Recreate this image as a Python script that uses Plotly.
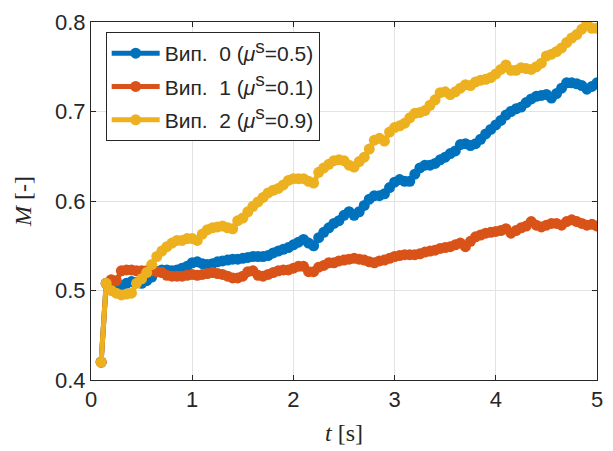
import plotly.graph_objects as go

# Time samples [s]
t = [round(0.10 + 0.05 * k, 2) for k in range(99)]

# Вип. 0 (mu_s = 0.5)
m_case0 = [
    0.420, 0.508, 0.506, 0.503, 0.505, 0.508, 0.510, 0.509, 0.508, 0.511,
    0.515, 0.521, 0.523, 0.523, 0.522, 0.523, 0.525, 0.527, 0.531, 0.532,
    0.530, 0.529, 0.530, 0.532, 0.533, 0.534, 0.535, 0.535, 0.536, 0.537,
    0.538, 0.538, 0.538, 0.539, 0.542, 0.544, 0.546, 0.548, 0.551, 0.554,
    0.557, 0.553, 0.550, 0.559, 0.565, 0.570, 0.575, 0.578, 0.584, 0.588,
    0.584, 0.588, 0.595, 0.602, 0.606, 0.606, 0.608, 0.615, 0.621, 0.624,
    0.622, 0.622, 0.630, 0.637, 0.640, 0.640, 0.642, 0.646, 0.649, 0.653,
    0.656, 0.663, 0.664, 0.662, 0.664, 0.669, 0.675, 0.680, 0.685, 0.690,
    0.696, 0.700, 0.703, 0.705, 0.710, 0.714, 0.717, 0.718, 0.719, 0.715,
    0.720, 0.726, 0.732, 0.732, 0.731, 0.729, 0.725, 0.728, 0.732,
]

# Вип. 1 (mu_s = 0.1)
m_case1 = [
    0.420, 0.508, 0.512, 0.511, 0.522, 0.523, 0.523, 0.522, 0.522, 0.522,
    0.522, 0.521, 0.520, 0.517, 0.516, 0.516, 0.516, 0.517, 0.518, 0.517,
    0.518, 0.519, 0.520, 0.519, 0.518, 0.516, 0.514, 0.514, 0.516, 0.521,
    0.522, 0.517, 0.516, 0.518, 0.520, 0.522, 0.523, 0.523, 0.525, 0.527,
    0.527, 0.521, 0.521, 0.526, 0.528, 0.531, 0.531, 0.533, 0.534, 0.535,
    0.536, 0.535, 0.534, 0.532, 0.531, 0.533, 0.534, 0.536, 0.538, 0.539,
    0.540, 0.540, 0.540, 0.541, 0.543, 0.544, 0.545, 0.547, 0.548, 0.549,
    0.551, 0.553, 0.549, 0.555, 0.560, 0.562, 0.564, 0.565, 0.566, 0.567,
    0.569, 0.564, 0.567, 0.570, 0.572, 0.577, 0.573, 0.571, 0.573, 0.575,
    0.575, 0.573, 0.577, 0.579, 0.577, 0.575, 0.573, 0.574, 0.572,
]

# Вип. 2 (mu_s = 0.9)
m_case2 = [
    0.420, 0.508, 0.500, 0.497, 0.495, 0.496, 0.497, 0.508, 0.513, 0.520,
    0.529, 0.538, 0.544, 0.549, 0.553, 0.556, 0.556, 0.558, 0.558, 0.556,
    0.563, 0.568, 0.570, 0.571, 0.572, 0.570, 0.569, 0.578, 0.581, 0.588,
    0.594, 0.599, 0.604, 0.609, 0.612, 0.614, 0.618, 0.623, 0.625, 0.625,
    0.625, 0.622, 0.620, 0.632, 0.637, 0.641, 0.645, 0.646, 0.645, 0.640,
    0.638, 0.644, 0.649, 0.658, 0.668, 0.670, 0.667, 0.677, 0.682, 0.684,
    0.687, 0.693, 0.698, 0.699, 0.701, 0.707, 0.713, 0.721, 0.722, 0.719,
    0.722, 0.726, 0.730, 0.729, 0.733, 0.735, 0.736, 0.738, 0.742, 0.747,
    0.752, 0.746, 0.746, 0.749, 0.748, 0.747, 0.750, 0.754, 0.762, 0.764,
    0.767, 0.771, 0.777, 0.782, 0.786, 0.792, 0.799, 0.793, 0.793,
]

mu_values = ["0.5", "0.1", "0.9"]
series_names = [
    f"Вип.\u00a0\u00a0{i} (<i>μ</i><sup><span style='font-size:19px'>s</span></sup>={mu})"
    for i, mu in enumerate(mu_values)
]
series_colors = ["#0072BD", "#D95319", "#EDB120"]
x_ticks = [0, 1, 2, 3, 4, 5]
y_ticks = [0.4, 0.5, 0.6, 0.7, 0.8]

fig = go.Figure()
for i, (vals, name, col) in enumerate(zip([m_case0, m_case1, m_case2], series_names, series_colors)):
    fig.add_trace(go.Scatter(
        x=t, y=vals, name=name, mode="lines+markers",
        line=dict(color=col, width=5),
        marker=dict(color=col, size=11, symbol="circle"),
        legendgroup=f"g{i}",
    ))

axis_common = dict(
    showline=True, linecolor="#262626", linewidth=1, mirror="ticks",
    ticks="inside", ticklen=5, tickcolor="#262626",
    showgrid=True, gridcolor="#e3e3e3", gridwidth=1,
    zeroline=False,
    tickfont=dict(family="Liberation Sans, Arial", size=22, color="#262626"),
)

fig.update_layout(
    width=613, height=451,
    margin=dict(l=91, r=10, t=22, b=68),
    paper_bgcolor="white", plot_bgcolor="white",
    xaxis=dict(
        range=[0, 5], tickvals=x_ticks, ticktext=[str(v) for v in x_ticks],
        title=dict(text="<i>t</i> [s]", standoff=12,
                   font=dict(family="Liberation Serif, DejaVu Serif", size=24, color="#262626")),
        **axis_common,
    ),
    yaxis=dict(
        range=[0.4, 0.8], tickvals=y_ticks, ticktext=[f"{v:.1f}" for v in y_ticks],
        title=dict(text="<i>M</i> [-]", standoff=16,
                   font=dict(family="Liberation Serif, DejaVu Serif", size=24, color="#262626")),
        **axis_common,
    ),
    legend=dict(
        x=0.029, y=0.972, xanchor="left", yanchor="top",
        bgcolor="white", bordercolor="#262626", borderwidth=1,
        font=dict(family="Liberation Sans, Arial", size=21, color="#262626"),
        itemwidth=48, tracegroupgap=3,
    ),
    showlegend=True,
)

fig.write_html("out.html")
